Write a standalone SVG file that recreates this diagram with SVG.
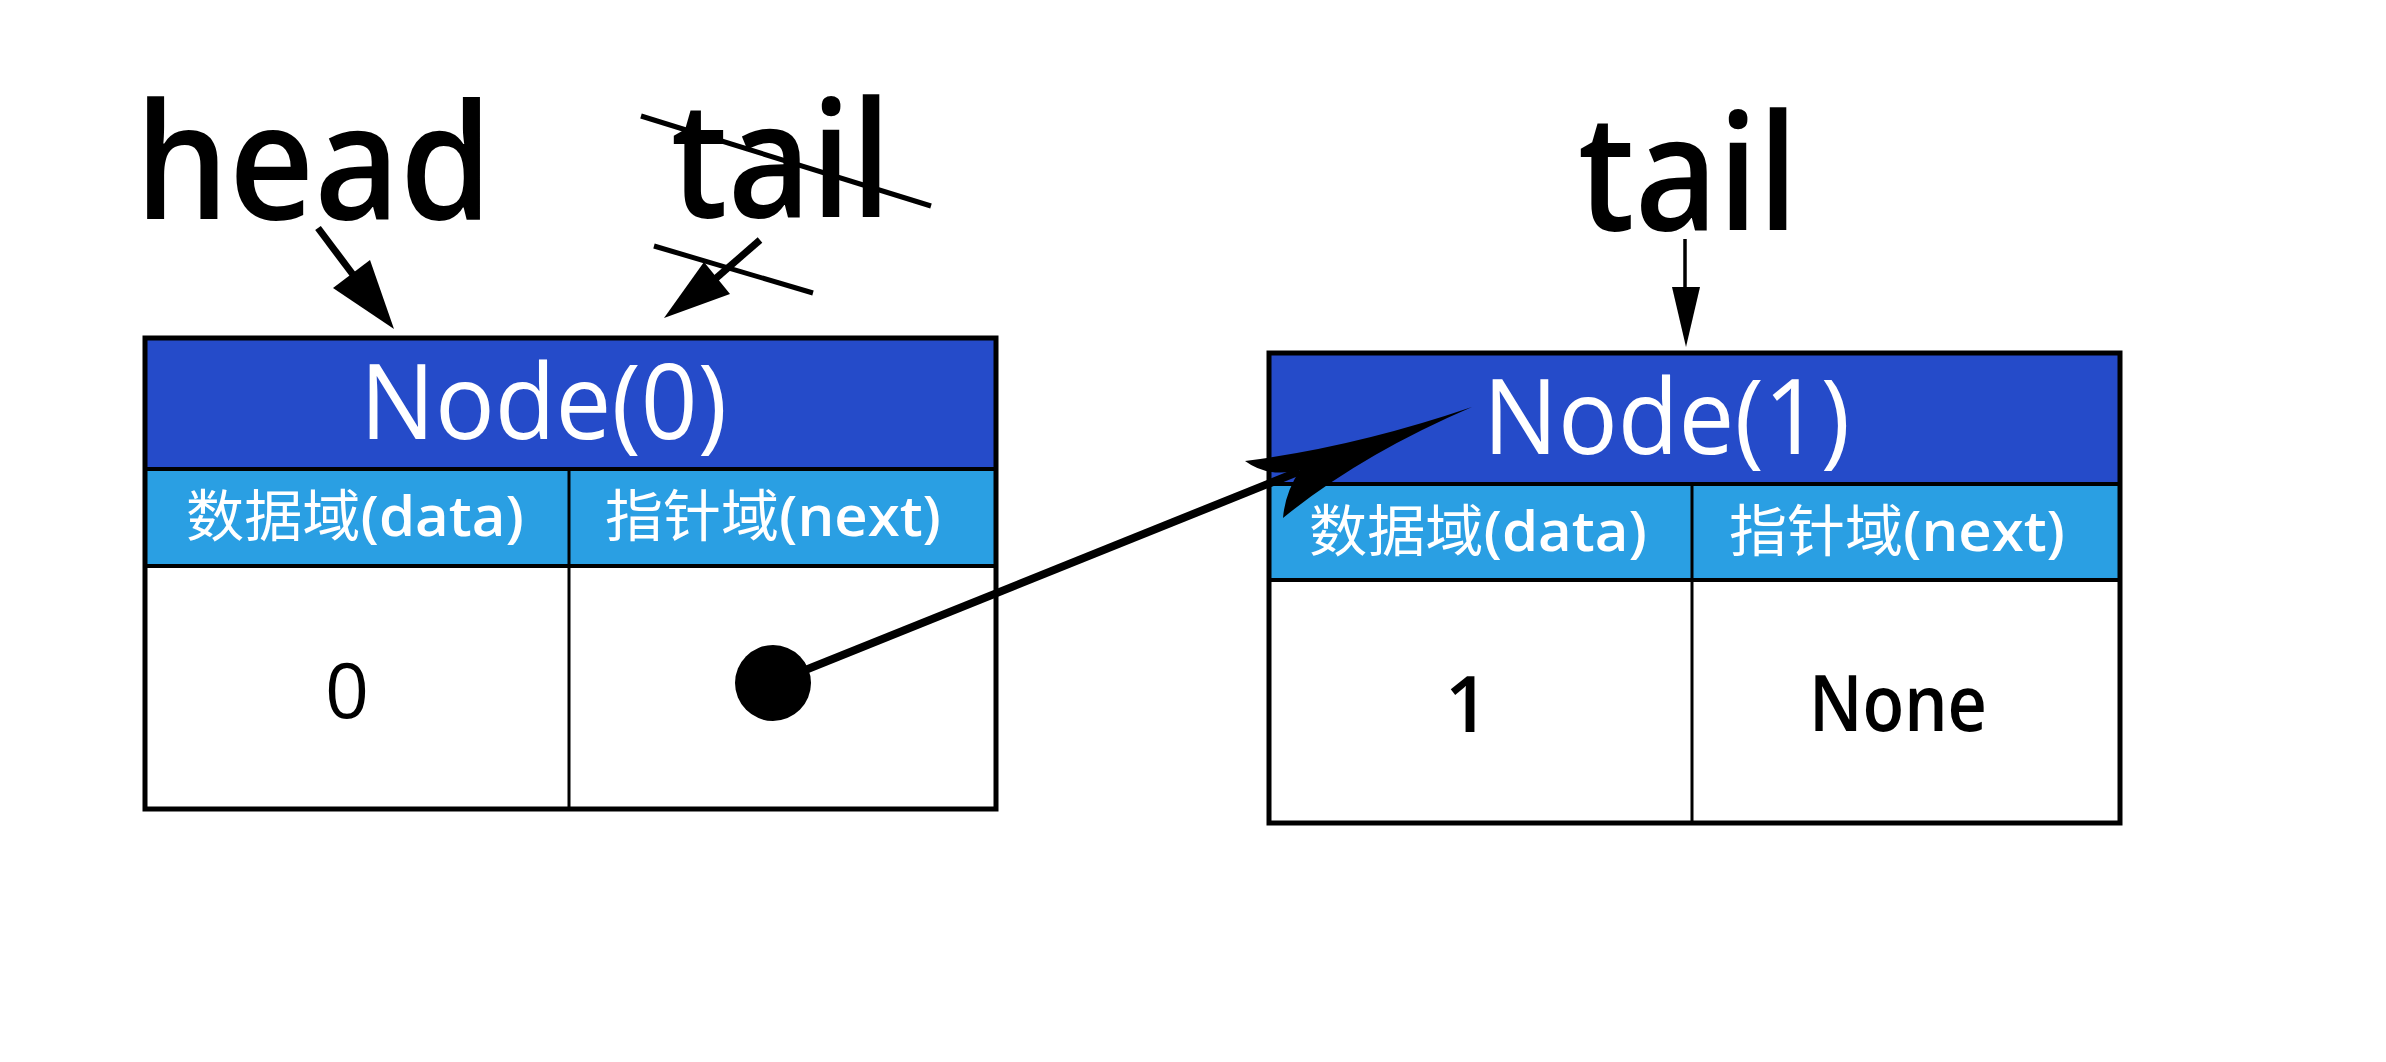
<svg xmlns="http://www.w3.org/2000/svg" width="2386" height="1062" viewBox="0 0 2386 1062">
<style>
.lbl{font-family:"Open Sans","Noto Sans","Liberation Sans",sans-serif;fill:#000}
.big{font-size:162px;font-weight:600}
.hdr{font-family:"Open Sans","Noto Sans","Liberation Sans",sans-serif;font-size:104px;fill:#fff;font-weight:500}
.sub{font-family:"Open Sans","Noto Sans CJK SC",sans-serif;font-size:56px;fill:#fff;font-weight:400}
.lat{font-weight:600}
.val{font-family:"Open Sans","Noto Sans","Liberation Sans",sans-serif;font-size:77px;fill:#000}
.bold{font-weight:600}
.dark{fill:#254BC9}
.light{fill:#2A9FE3}
.white{fill:#fff}
.frame{fill:none;stroke:#000;stroke-width:5}
.sep{stroke:#000;stroke-width:4}
.div{stroke:#000;stroke-width:3}
.thin{stroke:#000;stroke-width:5;fill:none}
</style>
<rect width="2386" height="1062" fill="#fff"/>
<g id="label-head">
<text class="lbl big" x="135" y="219" textLength="357" lengthAdjust="spacingAndGlyphs">head</text>
</g>
<g id="label-tail-old">
<text class="lbl big" x="671" y="217" textLength="220" lengthAdjust="spacingAndGlyphs">tail</text>
<line class="thin" x1="641" y1="116" x2="931" y2="206"/>
</g>
<g id="label-tail">
<text class="lbl big" x="1578" y="230" textLength="220" lengthAdjust="spacingAndGlyphs">tail</text>
</g>
<g id="node0">
<rect class="dark" x="145" y="338" width="851" height="131"/>
<rect class="light" x="145" y="469" width="851" height="97"/>
<rect class="white" x="145" y="566" width="851" height="243"/>
<line class="sep" x1="145" y1="469" x2="996" y2="469"/>
<line class="sep" x1="145" y1="566" x2="996" y2="566"/>
<line class="div" x1="569" y1="469" x2="569" y2="809"/>
<rect class="frame" x="145" y="338" width="851" height="471"/>
<text class="hdr" x="360" y="439" textLength="367" lengthAdjust="spacingAndGlyphs">Node(0)</text>
<text class="sub" x="186" y="536" textLength="338" lengthAdjust="spacingAndGlyphs">数据域<tspan class="lat">(data)</tspan></text>
<text class="sub" x="605" y="536" textLength="336" lengthAdjust="spacingAndGlyphs">指针域<tspan class="lat">(next)</tspan></text>
<text class="val" x="347" y="718" text-anchor="middle">0</text>
</g>
<g id="node1">
<rect class="dark" x="1269" y="353" width="851" height="131"/>
<rect class="light" x="1269" y="484" width="851" height="96"/>
<rect class="white" x="1269" y="580" width="851" height="243"/>
<line class="sep" x1="1269" y1="484" x2="2120" y2="484"/>
<line class="sep" x1="1269" y1="580" x2="2120" y2="580"/>
<line class="div" x1="1692" y1="484" x2="1692" y2="823"/>
<rect class="frame" x="1269" y="353" width="851" height="470"/>
<text class="hdr" x="1483" y="454" textLength="367" lengthAdjust="spacingAndGlyphs">Node(1)</text>
<text class="sub" x="1309" y="551" textLength="338" lengthAdjust="spacingAndGlyphs">数据域<tspan class="lat">(data)</tspan></text>
<text class="sub" x="1729" y="551" textLength="336" lengthAdjust="spacingAndGlyphs">指针域<tspan class="lat">(next)</tspan></text>
<text class="val bold" x="1467" y="732" text-anchor="middle">1</text>
<text class="val bold" x="1898" y="731" text-anchor="middle" textLength="178" lengthAdjust="spacingAndGlyphs">None</text>
</g>
<g id="connectors">
<line x1="318" y1="228" x2="354" y2="276" stroke="#000" stroke-width="7"/>
<polygon points="333,288 370,260 394,329" fill="#000"/>
<line x1="760" y1="240" x2="714" y2="280" stroke="#000" stroke-width="7"/>
<polygon points="704,262 730,294 664,318" fill="#000"/>
<line class="thin" x1="654" y1="246" x2="813" y2="293"/>
<line x1="1685" y1="239" x2="1685" y2="290" stroke="#000" stroke-width="3.5"/>
<polygon points="1672,287 1700,287 1686,347" fill="#000"/>
<circle cx="773" cy="683" r="38" fill="#000"/>
<line x1="773" y1="683" x2="1300" y2="471" stroke="#000" stroke-width="8"/>
<path d="M1472 407 Q1355 447 1245 461 Q1268 478 1300 470 Q1285 493 1283 518 Q1360 455 1472 407 Z" fill="#000"/>
</g>
</svg>
